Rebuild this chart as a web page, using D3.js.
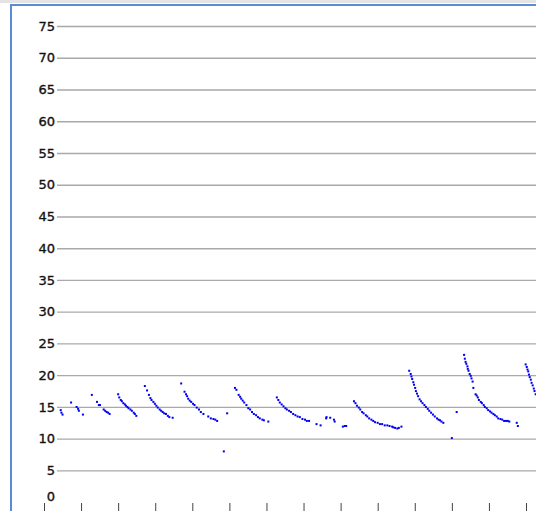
<!DOCTYPE html>
<html>
<head>
<meta charset="utf-8">
<script src="https://cdn.jsdelivr.net/npm/d3@7"></script>
<style>
  body { margin: 0; background: #fff; overflow: hidden; }
</style>
</head>
<body>
<svg id="vis" width="536" height="511"></svg>
<script>
// data
var xVals = [
    4.5, 4.7, 5.0,
    7.3, 8.8, 9.2, 9.4, 10.5,
    12.9, 14.3, 14.8, 15.1, 16.1, 16.5, 16.9, 17.3, 17.7,
    20.0, 20.3, 20.7, 21.0, 21.4, 21.8, 22.1, 22.5, 22.8, 23.3, 23.7, 24.2, 24.5, 24.9,
    27.2, 27.8, 28.3, 28.7, 29.0, 29.5, 29.9, 30.3, 30.7, 31.2, 31.6, 32.0, 32.4, 32.9, 33.4, 33.8, 34.7,
    37.0, 37.9, 38.3, 38.6, 38.9, 39.3, 39.7, 40.2, 40.6, 41.2, 41.8, 42.3, 43.0, 44.3, 45.0, 45.7, 46.2, 46.7,
    48.5, 49.4,
    51.5, 51.9, 52.5, 52.9, 53.2, 53.6, 54.0, 54.6, 55.1, 55.6, 56.1, 56.6, 57.2, 57.7, 58.2, 58.9, 59.3, 60.5,
    62.8, 63.2, 63.6, 64.1, 64.6, 65.1, 65.5, 66.1, 66.6, 67.2, 67.8, 68.4, 69.0, 69.7, 70.4, 70.9, 71.5,
    73.5, 74.6, 76.1, 76.2, 77.2, 78.2, 78.4, 80.6, 81.1, 81.5,
    83.6, 84.0, 84.4, 84.9, 85.3, 85.8, 86.2, 86.8, 87.2, 87.7, 88.3, 88.8, 89.3, 90.0, 90.6, 91.2, 91.9, 92.6, 93.2, 93.9, 94.2, 94.7, 95.3, 95.7, 96.4,
    98.5, 98.9, 99.1, 99.3, 99.6, 99.8, 100.1, 100.3, 100.6, 100.9, 101.3, 101.7, 102.1, 102.6, 103.0, 103.5, 103.9, 104.4, 104.9, 105.4, 106.0, 106.4, 106.8, 107.2, 107.7,
    110.0, 111.3,
    113.3, 113.5, 113.7, 113.9, 114.2, 114.3, 114.5, 114.8, 115.1, 115.3, 115.6, 115.8, 116.4, 116.7, 117.0, 117.3, 117.8, 118.1, 118.6, 118.9, 119.4, 119.8, 120.3, 120.7, 121.2, 121.6, 122.1, 122.5, 123.1, 123.6, 124.1, 124.6, 125.1, 125.5, 127.5, 127.8,
    129.9, 130.2, 130.4, 130.6, 130.8, 131.0, 131.3, 131.5, 131.8, 132.1, 132.3, 132.6
];
var yVals = [
    14.5, 14.1, 13.8,
    15.7, 15.0, 14.7, 14.4, 13.8,
    16.9, 15.8, 15.3, 15.3, 14.6, 14.4, 14.2, 14.1, 13.9,
    17.0, 16.5, 16.1, 15.9, 15.6, 15.4, 15.2, 15.0, 14.8, 14.6, 14.4, 14.1, 13.9, 13.6,
    18.3, 17.6, 16.9, 16.4, 16.1, 15.8, 15.5, 15.2, 14.9, 14.6, 14.4, 14.2, 14.0, 13.9, 13.6, 13.4, 13.3,
    18.7, 17.4, 17.0, 16.7, 16.3, 16.0, 15.8, 15.5, 15.3, 14.9, 14.6, 14.2, 13.9, 13.5, 13.2, 13.1, 13.0, 12.8,
    8.0, 14.0,
    18.0, 17.7, 16.9, 16.6, 16.3, 16.0, 15.7, 15.3, 14.8, 14.6, 14.2, 13.9, 13.7, 13.4, 13.2, 13.0, 12.9, 12.7,
    16.5, 16.1, 15.7, 15.4, 15.1, 14.8, 14.6, 14.4, 14.2, 13.9, 13.7, 13.5, 13.4, 13.1, 13.0, 12.8, 12.8,
    12.3, 12.1, 13.2, 13.4, 13.3, 13.0, 12.7, 11.9, 12.0, 12.0,
    15.9, 15.6, 15.2, 14.9, 14.6, 14.2, 14.0, 13.7, 13.5, 13.2, 13.0, 12.8, 12.6, 12.5, 12.3, 12.3, 12.1, 12.1, 12.0, 11.9, 11.8, 11.7, 11.6, 11.7, 11.9,
    20.7, 20.2, 19.8, 19.4, 18.9, 18.5, 18.0, 17.5, 17.1, 16.7, 16.2, 15.9, 15.6, 15.3, 15.0, 14.7, 14.4, 14.1, 13.8, 13.5, 13.2, 13.0, 12.9, 12.7, 12.5,
    10.1, 14.2,
    23.2, 22.6, 22.1, 21.8, 21.4, 21.0, 20.7, 20.2, 19.9, 19.5, 19.0, 18.0, 17.0, 16.8, 16.5, 16.1, 15.8, 15.6, 15.3, 15.0, 14.8, 14.5, 14.3, 14.1, 13.9, 13.7, 13.5, 13.2, 13.1, 13.0, 12.8, 12.8, 12.8, 12.7, 12.5, 12.0,
    21.7, 21.3, 20.9, 20.6, 20.1, 19.7, 19.3, 18.8, 18.4, 17.9, 17.5, 17.0
];
var yTicks = [0, 5, 10, 15, 20, 25, 30, 35, 40, 45, 50, 55, 60, 65, 70, 75];
var xTicks = [0, 10, 20, 30, 40, 50, 60, 70, 80, 90, 100, 110, 120, 130];

var points = xVals.map(function (d, i) {
    return {x: d, y: yVals[i]};
});

var svg = d3.select("#vis");

// scales
var x = d3.scaleLinear().domain([0, 130]).range([44, 526]);
var y = d3.scaleLinear().domain([0, 75]).range([502.2, 26]);

// grey strip + blue frame
svg.append("rect")
    .attr("x", 0).attr("y", 0)
    .attr("width", 536).attr("height", 3)
    .style("fill", "#e4e4e4");
svg.append("rect")
    .attr("x", 11).attr("y", 5)
    .attr("width", 700).attr("height", 700)
    .style("fill", "#fff")
    .style("stroke", "#5b8bd0")
    .style("stroke-width", 2);

// y axis with gridlines
var yAxis = svg.append("g")
    .attr("transform", "translate(57,0)")
    .call(d3.axisLeft(y).tickValues(yTicks).tickSize(-490).tickPadding(2));
yAxis.select(".domain").remove();
yAxis.selectAll(".tick line")
    .style("stroke", "#a9a9a9")
    .style("stroke-width", 1.3);
yAxis.selectAll(".tick text")
    .style("font-family", "'DejaVu Sans', Verdana, sans-serif")
    .style("font-size", "13px")
    .style("fill", "#111")
    .style("stroke", "#111")
    .style("stroke-width", 0.35);
// no gridline at zero, label pulled up
yAxis.selectAll(".tick").filter(function (d) { return d === 0; })
    .each(function () {
        d3.select(this).select("line").remove();
        d3.select(this).select("text").attr("dy", "-0.15em");
    });

// x axis, ticks only (labels are cut off)
var xAxis = svg.append("g")
    .attr("transform", "translate(0,503)")
    .call(d3.axisBottom(x).tickValues(xTicks).tickSize(9).tickFormat(""));
xAxis.select(".domain").remove();
xAxis.selectAll(".tick line").style("stroke", "#444");

// scatter points
svg.append("g")
    .selectAll("rect")
    .data(points)
    .enter()
    .append("rect")
    .attr("x", function (d) { return x(d.x) - 1; })
    .attr("y", function (d) { return y(d.y) - 1; })
    .attr("width", 2)
    .attr("height", 2)
    .style("fill", "#0000f0");
</script>
</body>
</html>
